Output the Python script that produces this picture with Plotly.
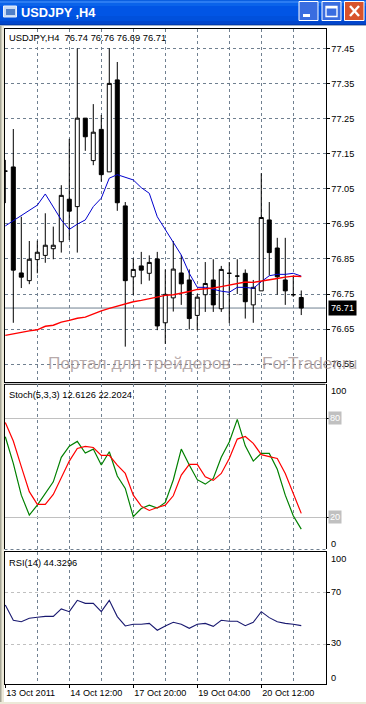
import plotly.graph_objects as go

W, H = 366, 704

# ---------- data ----------
open_ = [77.100,77.112,76.810,76.788,76.848,76.860,76.879,76.899,77.020,76.999,77.251,77.130,77.219,77.098,77.360,77.001,76.799,76.830,76.809,76.850,
         76.668,76.739,76.810,76.790,76.689,76.748,76.790,76.708,76.809,76.801,76.809,76.719,76.759,76.961,76.881,76.790,76.748,76.74]
high  = [77.132,77.220,76.970,76.901,76.902,76.980,76.942,77.060,77.192,77.450,77.251,77.291,77.260,77.450,77.411,77.012,76.852,76.870,76.860,76.870,
         76.820,76.901,76.861,76.820,76.750,76.841,76.849,76.830,76.841,76.849,76.820,76.790,77.094,77.012,76.910,76.910,76.799,76.76]
low   = [77.009,76.668,76.767,76.778,76.809,76.839,76.849,76.868,76.904,76.868,77.158,77.117,77.070,77.098,76.987,76.600,76.747,76.778,76.788,76.647,
         76.608,76.700,76.719,76.649,76.647,76.699,76.699,76.699,76.667,76.750,76.680,76.668,76.759,76.803,76.748,76.719,76.742,76.69]
close = [77.100,76.818,76.798,76.849,76.869,76.889,76.889,77.031,76.986,77.251,77.198,77.211,77.090,77.350,77.010,76.788,76.820,76.818,76.840,76.659,
         76.749,76.821,76.779,76.680,76.741,76.780,76.719,76.820,76.809,76.801,76.728,76.769,76.968,76.868,76.799,76.759,76.748,76.71]
ma_blue = [76.944,76.959,76.972,76.987,77.003,77.035,76.999,76.961,76.934,76.949,76.961,76.999,77.023,77.080,77.090,77.082,77.075,77.053,77.037,76.970,
           76.934,76.899,76.861,76.809,76.769,76.769,76.763,76.758,76.755,76.769,76.769,76.766,76.785,76.802,76.806,76.806,76.809,76.801]
ma_red = [76.632,76.637,76.641,76.645,76.648,76.658,76.661,76.670,76.675,76.681,76.684,76.694,76.702,76.709,76.716,76.722,76.728,76.732,76.737,76.743,
          76.746,76.748,76.752,76.757,76.763,76.764,76.767,76.771,76.776,76.779,76.784,76.783,76.786,76.790,76.794,76.798,76.801,76.800]
stoch_main = [68.8,52.6,33.3,21.2,27.2,34.3,41.4,56.3,63.1,66.0,58.9,61.3,51.6,59.7,44.9,37.4,20.2,25.2,27.2,25.4,28.9,42.5,61.3,51.6,42.7,40.0,43.5,56.3,
              65.6,79.4,63.3,54.0,58.7,58.7,49.0,33.3,20.8,12.61]
stoch_signal = [77.5,66.2,50.6,35.4,27.7,27.7,33.7,43.5,54.0,61.7,62.9,62.3,57.5,57.5,51.6,46.5,33.3,26.6,24.0,25.8,27.2,32.9,45.5,52.0,52.0,44.5,42.3,46.5,
                55.6,67.4,69.0,64.8,57.9,56.7,55.6,46.5,34.3,22.2]
rsi = [60.2,48.5,47.4,50.0,50.8,51.5,51.5,57.2,55.1,63.8,61.5,61.5,55.1,63.8,51.3,44.1,45.4,45.4,46.1,40.8,44.1,46.9,45.4,42.3,45.4,46.1,43.8,48.5,47.7,47.7,
       44.3,46.9,55.1,50.5,47.4,46.1,45.4,44.33]
price_ticks = [77.45,77.35,77.25,77.15,77.05,76.95,76.85,76.75,76.65,76.55]
date_ticks = [0,8,16,24,32]
date_labels = ["13 Oct 2011","14 Oct 12:00","17 Oct 20:00","19 Oct 04:00","20 Oct 12:00"]
grid_extra = [4,12,20,28,36]
last_price = 76.71
stoch_levels = [100,80,20,0]
rsi_levels = [100,70,30,0]
window_title = "USDJPY ,H4"
main_label = "USDJPY,H4  76.74 76.76 76.69 76.71"
stoch_label = "Stoch(5,3,3) 12.6126 22.2024"
rsi_label = "RSI(14) 44.3296"
watermark_a = "Портал для трейдеров -"
watermark_b = "ForTrader.ru"

# ---------- geometry helpers ----------
def dom_x(a, b): return [a / W, b / W]
def dom_y(top, bot): return [1 - bot / H, 1 - top / H]
XD = dom_x(4.5, 325.5)
XR = [-0.1, 40.03]
GRID = "#708090"
DASH = "3px,3px"
FONT = "Liberation Sans"
TICK = 9.2

x = list(range(len(close)))
fig = go.Figure()
fig.add_trace(go.Candlestick(x=x, open=open_, high=high, low=low, close=close, xaxis="x", yaxis="y",
    increasing=dict(line=dict(color="black", width=1), fillcolor="white"),
    decreasing=dict(line=dict(color="black", width=1), fillcolor="black"),
    whiskerwidth=0, hoverinfo="skip", showlegend=False))
def line(y, color, xa, ya, w=1):
    fig.add_trace(go.Scatter(x=x, y=y, mode="lines", xaxis=xa, yaxis=ya, showlegend=False, hoverinfo="skip",
                             line=dict(color=color, width=w)))
line(ma_blue, "#0000CD", "x", "y")
line(ma_red, "#FF0000", "x", "y", 1.4)
line(stoch_main, "#008000", "x2", "y2", 1.2)
line(stoch_signal, "#FF0000", "x2", "y2", 1.2)
line(rsi, "#191970", "x3", "y3", 1.1)

def xaxis(dom_anchor, show_labels, line_on=True):
    return dict(domain=XD, range=XR, anchor=dom_anchor, tickmode="array", automargin=False, tickangle=0,
                tickvals=date_ticks, ticktext=date_labels if show_labels else [""] * 5,
                showticklabels=show_labels, ticks="outside" if show_labels else "", ticklen=3, tickcolor="black",
                showgrid=True, gridcolor=GRID, griddash=DASH, gridwidth=1,
                minor=dict(tickmode="array", tickvals=grid_extra, showgrid=True, gridcolor=GRID, griddash=DASH, gridwidth=1, ticks=""),
                showline=line_on, mirror=line_on, linecolor="black", linewidth=1, zeroline=False,
                rangeslider=dict(visible=False), fixedrange=True,
                ticklabelposition="outside right", tickfont=dict(family=FONT, size=9.1, color="black"))

layout = dict(
    template="none",
    width=W, height=H, margin=dict(l=0, r=0, t=0, b=0, autoexpand=False), paper_bgcolor="white", plot_bgcolor="white",
    showlegend=False, boxgap=0.5, boxgroupgap=0, hovermode=False,
    xaxis=xaxis("y", False), xaxis2=xaxis("y2", False, False), xaxis3=xaxis("y3", True),
    yaxis=dict(domain=dom_y(29, 382), range=[76.4993, 77.505], anchor="x", side="right", automargin=False,
               tickmode="array", tickvals=price_ticks, ticktext=[f"{v:.2f}" for v in price_ticks],
               ticks="outside", ticklen=3, tickcolor="black", showgrid=True, gridcolor=GRID, griddash=DASH, gridwidth=1,
               showline=True, linecolor="black", linewidth=1, mirror=True, zeroline=False, fixedrange=True,
               tickfont=dict(family=FONT, size=TICK, color="black")),
    yaxis2=dict(domain=dom_y(384.3, 549), range=[0.55, 100.7], anchor="x2", side="right", automargin=False,
                tickmode="array", tickvals=[80, 20], ticks="outside", ticklen=3, tickcolor="black",
                showticklabels=False, showgrid=True, gridcolor="#C0C0C0", gridwidth=1,
                showline=True, linecolor="black", linewidth=1, mirror=True, zeroline=False, fixedrange=True),
    yaxis3=dict(domain=dom_y(551.7, 683.7), range=[-0.3, 101.2], anchor="x3", side="right", automargin=False,
                tickmode="array", tickvals=[70, 30], ticks="outside", ticklen=3, tickcolor="black",
                showticklabels=False, showgrid=True, gridcolor="#C0C0C0", griddash=DASH, gridwidth=1,
                showline=True, linecolor="black", linewidth=1, mirror=True, zeroline=False, fixedrange=True),
)

# ---------- window chrome (paper-coordinate rectangles) ----------
shapes = []
def rect(x0, y0, x1, y1, fill, linecolor=None, lw=0, layer="below"):
    shapes.append(dict(type="rect", xref="paper", yref="paper", x0=x0 / W, x1=x1 / W, y0=1 - y0 / H, y1=1 - y1 / H,
                       fillcolor=fill, line=dict(color=linecolor or fill, width=lw), layer=layer))
def seg(x0, y0, x1, y1, color, lw=1, dash="solid", layer="below"):
    shapes.append(dict(type="line", xref="paper", yref="paper", x0=x0 / W, x1=x1 / W, y0=1 - y0 / H, y1=1 - y1 / H,
                       line=dict(color=color, width=lw, dash=dash), layer=layer))
for y0, y1, c in [(0,1,"#0B5FE0"),(1,3,"#2B7CF2"),(3,6,"#0A63EA"),(6,16,"#0155E5"),(16,21,"#0050DC"),(21,24,"#0246CC"),(24,25,"#003AB0"),(25,26,"#A0B0C8")]:
    rect(0, y0, W, y1, c)
rect(0, 26, 4, H, "#ECE9D8")
rect(0, 26, 1.5, H, "#A8A898")
rect(0, 702, W, H, "#ECE9D8")
# icon
rect(3.5, 6, 16.5, 17, "#C6D9F4", "#E8F0FB", 1)
rect(6, 9, 15, 15, "#4F7FC8")
# buttons
rect(299, 1.5, 318, 20.5, "#3A6DE0", "white", 1)
rect(322, 1.5, 341, 20.5, "#3A6DE0", "white", 1)
rect(344.5, 1.5, 364, 20.5, "#D8532C", "white", 1)
rect(303, 14, 310, 17, "white")
rect(326, 6.5, 337, 16.5, "rgba(0,0,0,0)", "white", 1.3)
rect(326, 6.5, 337, 8.5, "white")
seg(350, 6, 359, 16, "white", 2.4)
seg(359, 6, 350, 16, "white", 2.4)
# stoch bottom dashed, top border
seg(4.5, 384.3, 325.5, 384.3, "black", 1)
seg(4.5, 549.5, 325.5, 549.5, GRID, 1, DASH)
# last-price line
shapes.append(dict(type="line", xref="x domain", yref="y", x0=0, x1=1, y0=last_price, y1=last_price,
                   line=dict(color=GRID, width=1), layer="below"))

# ---------- texts ----------
ann = []
def text(s, px, py, size=10, color="black", anchor="left", family=FONT, bg=None, bold=False, pad=0):
    ann.append(dict(text=f"<b>{s}</b>" if bold else str(s), xref="paper", yref="paper", x=px / W, y=1 - py / H, xanchor=anchor, yanchor="middle",
                    showarrow=False, font=dict(family=family, size=size, color=color), bgcolor=bg, borderpad=pad))
text(window_title, 20, 12, 12.8, "white", bold=True)
text(main_label, 7.5, 37.5, 9.4)
text(stoch_label, 7.5, 395, 9.3)
text(rsi_label, 7.5, 562.7, 9.3)
text(watermark_a, 47, 363, 17.3, "rgba(160,142,142,0.75)")
text(watermark_b, 358, 363, 17.3, "rgba(160,142,142,0.75)", anchor="right")
ann.append(dict(text=f"{last_price:.2f}", xref="paper", yref="y", x=327.5/W, y=last_price, xanchor="left", yanchor="middle", showarrow=False,
                font=dict(family=FONT, size=TICK, color="white"), bgcolor="black", borderpad=2))
for v, yy in zip(stoch_levels, [391.3, 418, 517, 543.7]):
    if v in (80, 20):
        text(v, 328, yy, TICK, "white", bg="#C0C0C0", pad=1)
    else:
        text(v, 329.5, yy, TICK)
for v, yy in zip(rsi_levels, [559.3, 591.7, 643.3, 677.7]):
    text(v, 329.5, yy, TICK)

fig.update_layout(**layout, shapes=shapes, annotations=ann)
fig.write_html("out.html", post_script="document.body.style.margin='0';document.body.style.overflow='hidden';",
               config={"displayModeBar": False})
